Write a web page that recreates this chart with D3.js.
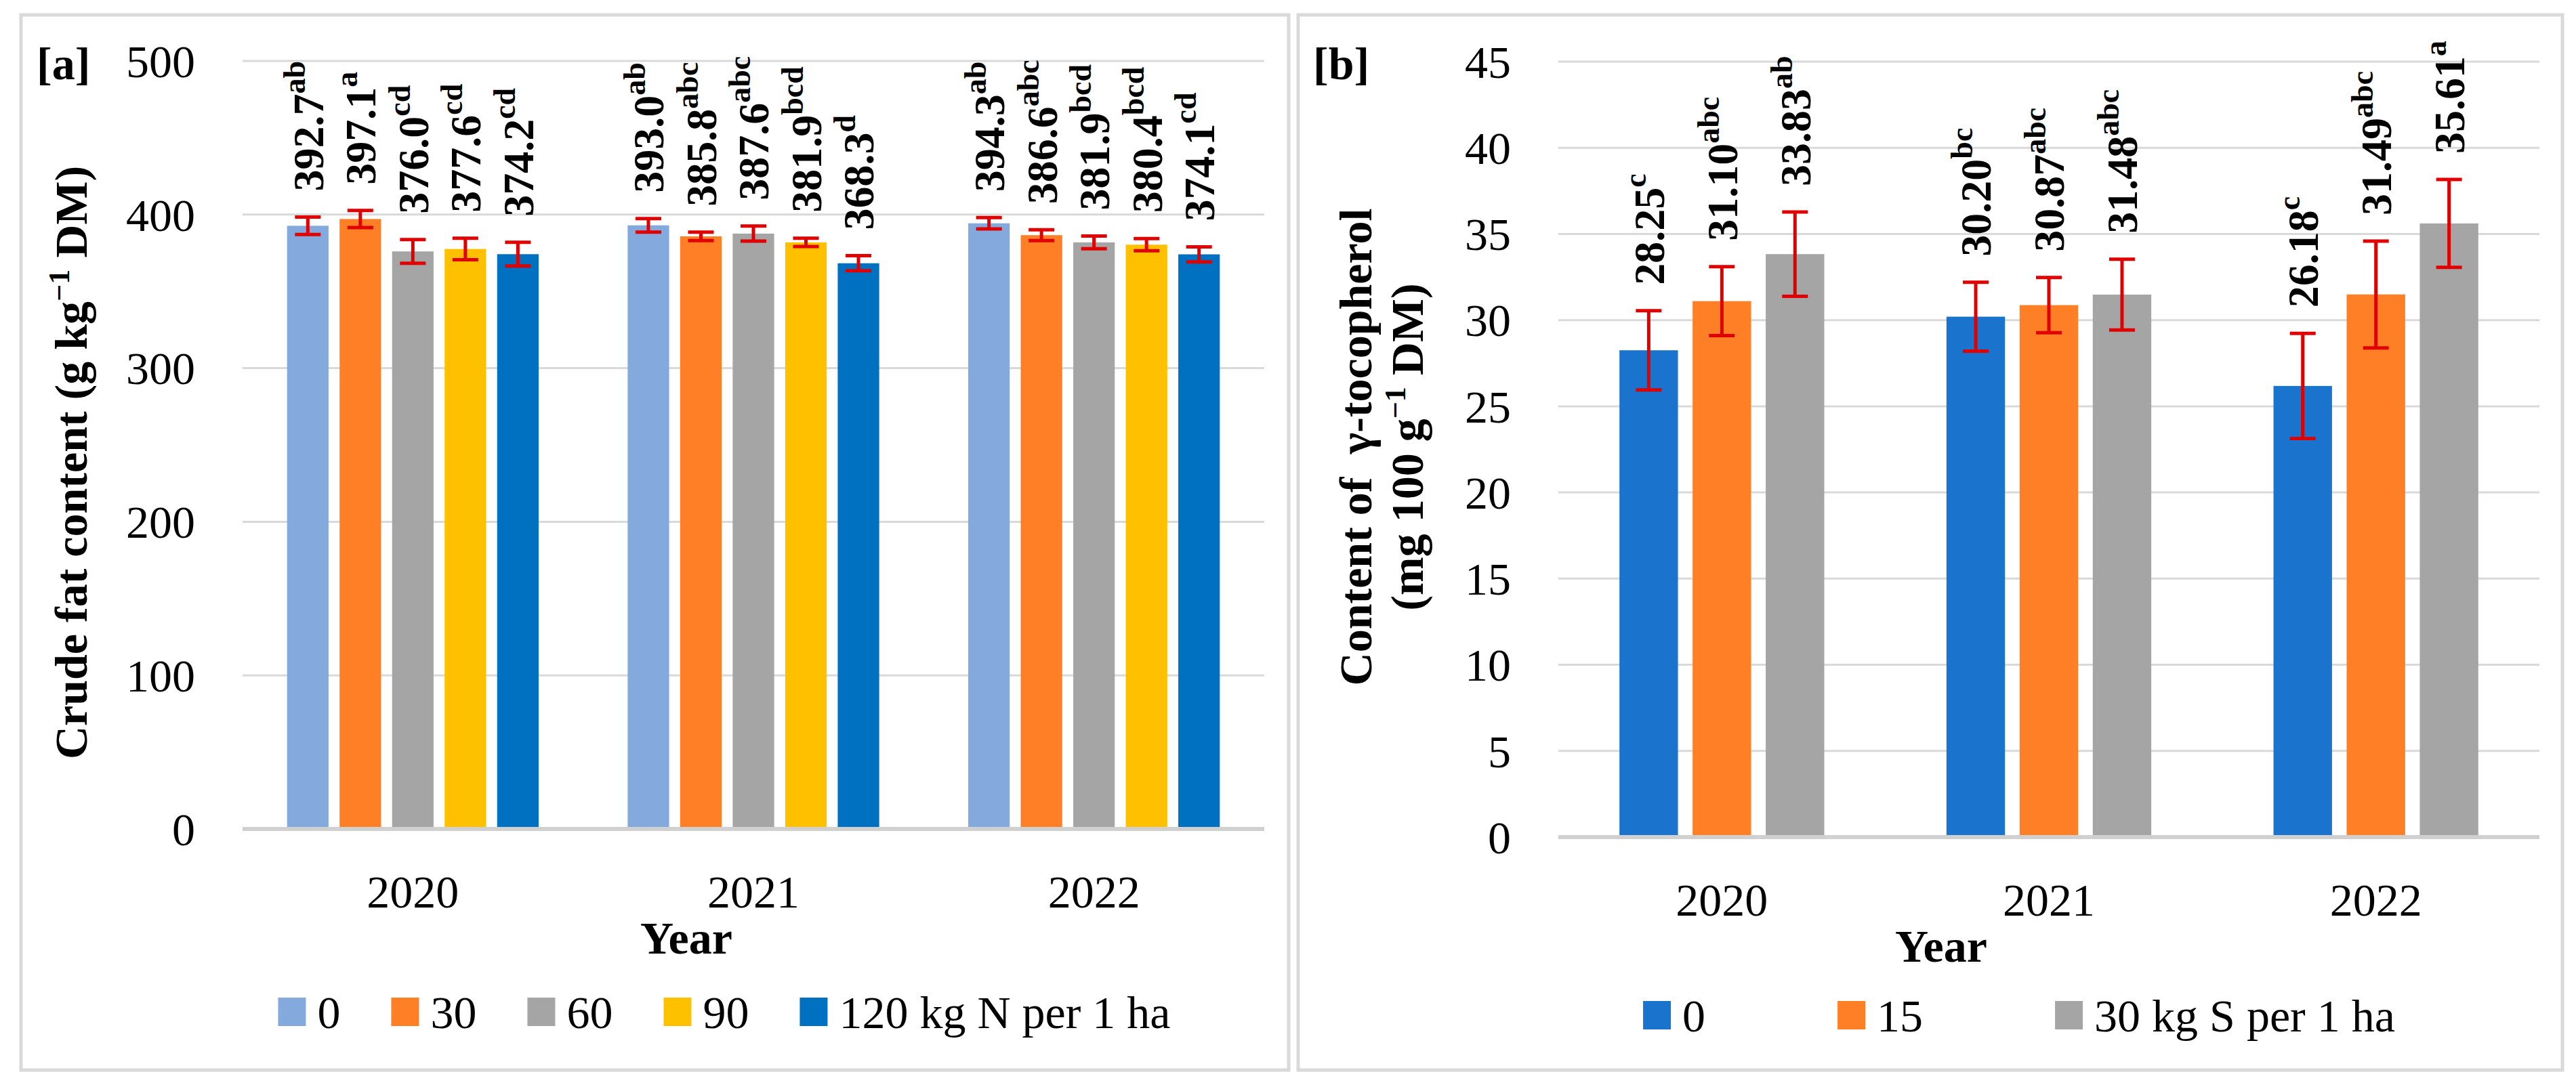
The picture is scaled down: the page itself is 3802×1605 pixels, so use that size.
<!DOCTYPE html>
<html>
<head>
<meta charset="utf-8">
<script src="https://cdn.jsdelivr.net/npm/d3@7"></script>
<style>
    body { margin: 0; background: #fff; }
    text { font-family: "Liberation Serif", "Times New Roman", serif; fill: #000; }
    .tick-label { font-size: 68px; }
    .axis-title { font-size: 68px; font-weight: bold; white-space: pre; }
    .bar-label { font-size: 64px; font-weight: bold; }
    .grid-line { stroke: #d9d9d9; stroke-width: 3; }
    .base-line { stroke: #d0d0d0; stroke-width: 6; }
    .frame { fill: none; stroke: #d9d9d9; stroke-width: 5; }
    .err { stroke: #e00000; stroke-width: 5; fill: none; }
</style>
</head>
<body>
<script>

// Data ////////////////////////////////////

const years = ["2020", "2021", "2022"];

// [a] crude fat, g/kg DM, by N rate
const nLevels = ["0", "30", "60", "90", "120 kg N per 1 ha"];
const nColors = ["#84aadd", "#ff7f27", "#a5a5a5", "#ffc000", "#0070c0"];

const fatN0 = [392.7, 393.0, 394.3];
const fatN30 = [397.1, 385.8, 386.6];
const fatN60 = [376.0, 387.6, 381.9];
const fatN90 = [377.6, 381.9, 380.4];
const fatN120 = [374.2, 368.3, 374.1];

const fatErrN0 = [5.7, 4.4, 3.7];
const fatErrN30 = [5.6, 2.8, 3.5];
const fatErrN60 = [7.7, 4.9, 4.1];
const fatErrN90 = [7.0, 2.7, 4.0];
const fatErrN120 = [7.7, 4.9, 4.9];

const fatLetN0 = ["ab", "ab", "ab"];
const fatLetN30 = ["a", "abc", "abc"];
const fatLetN60 = ["cd", "abc", "bcd"];
const fatLetN90 = ["cd", "bcd", "bcd"];
const fatLetN120 = ["cd", "d", "cd"];

// [b] gamma-tocopherol, mg/100 g DM, by S rate
const sLevels = ["0", "15", "30 kg S per 1 ha"];
const sColors = ["#1a73cc", "#ff7f27", "#a5a5a5"];

const tocS0 = [28.25, 30.20, 26.18];
const tocS15 = [31.10, 30.87, 31.49];
const tocS30 = [33.83, 31.48, 35.61];

const tocErrS0 = [2.3, 2.0, 3.05];
const tocErrS15 = [2.0, 1.6, 3.1];
const tocErrS30 = [2.45, 2.05, 2.55];

const tocLetS0 = ["c", "bc", "c"];
const tocLetS15 = ["abc", "abc", "abc"];
const tocLetS30 = ["ab", "abc", "a"];

const yTicksA = [0, 100, 200, 300, 400, 500];
const yTicksB = [0, 5, 10, 15, 20, 25, 30, 35, 40, 45];

// Layout ////////////////////////////////////

const dim = { width: 3802, height: 1605 };

const panels = [
    {
        frame: { x: 31, y: 22, w: 1871, h: 1558 },
        tag: "[a]", tagX: 54, tagY: 117,
        plot: { left: 358, right: 1866, top: 90, bottom: 1224 },
        yTicks: yTicksA,
        groupFrac: 0.771, barPad: 0.21,
        levels: nLevels, colors: nColors,
        means: [fatN0, fatN30, fatN60, fatN90, fatN120],
        errs: [fatErrN0, fatErrN30, fatErrN60, fatErrN90, fatErrN120],
        letters: [fatLetN0, fatLetN30, fatLetN60, fatLetN90, fatLetN120],
        fmt: d3.format(".1f"),
        title: [
            [{ t: "Crude fat content (g kg" }, { t: "\u22121", sup: true }, { t: " DM)" }]
        ],
        titleX: [128], titleY: 683,
        yearShift: -99,
        legendCenter: 1069, legendY: 1494, legendGap: 75
    },
    {
        frame: { x: 1916, y: 22, w: 1866, h: 1558 },
        tag: "[b]", tagX: 1938, tagY: 117,
        plot: { left: 2300, right: 3748, top: 91, bottom: 1236 },
        yTicks: yTicksB,
        groupFrac: 0.671, barPad: 0.2,
        levels: sLevels, colors: sColors,
        means: [tocS0, tocS15, tocS30],
        errs: [tocErrS0, tocErrS15, tocErrS30],
        letters: [tocLetS0, tocLetS15, tocLetS30],
        fmt: d3.format(".2f"),
        title: [
            [{ t: "Content of  \u03b3-tocopherol" }],
            [{ t: "(mg 100 g" }, { t: "\u22121", sup: true }, { t: " DM)" }]
        ],
        titleX: [2024, 2100], titleY: 660,
        yearShift: -159,
        legendCenter: 2980, legendY: 1499, legendGap: 195
    }
];

const svg = d3.select("body").append("svg")
    .attr("width", dim.width)
    .attr("height", dim.height)
    .attr("viewBox", [0, 0, dim.width, dim.height]);

svg.append("rect")
    .attr("width", dim.width).attr("height", dim.height)
    .style("fill", "#fff");

panels.forEach(p => svg.call(drawPanel, p));

function drawPanel(svg, p) {

    const g = svg.append("g");

    g.append("rect")
        .attr("class", "frame")
        .attr("x", p.frame.x).attr("y", p.frame.y)
        .attr("width", p.frame.w).attr("height", p.frame.h);

    const yMax = d3.max(p.yTicks);
    const y = d3.scaleLinear()
        .domain([0, yMax])
        .range([p.plot.bottom, p.plot.top]);

    const x0 = d3.scaleBand()
        .domain(years)
        .range([p.plot.left, p.plot.right]);

    const groupW = x0.bandwidth() * p.groupFrac;
    const groupOff = (x0.bandwidth() - groupW) / 2;

    const x1 = d3.scaleBand()
        .domain(p.levels)
        .range([0, groupW])
        .paddingInner(p.barPad)
        .paddingOuter(p.barPad / 2);

    // grid + y labels
    g.append("g")
        .selectAll("line")
        .data(p.yTicks.filter(d => d !== 0))
        .join("line")
        .attr("class", "grid-line")
        .attr("x1", p.plot.left).attr("x2", p.plot.right)
        .attr("y1", d => y(d)).attr("y2", d => y(d));

    g.append("g")
        .selectAll("text")
        .data(p.yTicks)
        .join("text")
        .attr("class", "tick-label")
        .attr("text-anchor", "end")
        .attr("x", p.plot.left - 70)
        .attr("y", d => y(d))
        .attr("dy", "0.35em")
        .text(d => d);

    // bars
    const rows = [];
    p.levels.forEach((lev, i) => {
        years.forEach((yr, j) => {
            rows.push({
                year: yr, level: lev, color: p.colors[i],
                mean: p.means[i][j], err: p.errs[i][j], letter: p.letters[i][j]
            });
        });
    });
    const cx = d => x0(d.year) + groupOff + x1(d.level) + x1.bandwidth() / 2;

    g.append("g")
        .selectAll("rect")
        .data(rows)
        .join("rect")
        .attr("x", d => x0(d.year) + groupOff + x1(d.level))
        .attr("y", d => y(d.mean))
        .attr("width", x1.bandwidth())
        .attr("height", d => y(0) - y(d.mean))
        .style("fill", d => d.color);

    g.append("line")
        .attr("class", "base-line")
        .attr("x1", p.plot.left).attr("x2", p.plot.right)
        .attr("y1", y(0)).attr("y2", y(0));

    // error bars
    const capW = 38;
    const errG = g.append("g")
        .selectAll("g")
        .data(rows)
        .join("g")
        .attr("class", "err");
    errG.append("line")
        .attr("x1", cx).attr("x2", cx)
        .attr("y1", d => y(d.mean - d.err)).attr("y2", d => y(d.mean + d.err));
    errG.append("line")
        .attr("x1", d => cx(d) - capW / 2).attr("x2", d => cx(d) + capW / 2)
        .attr("y1", d => y(d.mean + d.err)).attr("y2", d => y(d.mean + d.err));
    errG.append("line")
        .attr("x1", d => cx(d) - capW / 2).attr("x2", d => cx(d) + capW / 2)
        .attr("y1", d => y(d.mean - d.err)).attr("y2", d => y(d.mean - d.err));

    // value labels, rotated
    const lab = g.append("g")
        .selectAll("text")
        .data(rows)
        .join("text")
        .attr("class", "bar-label")
        .attr("transform", d => `translate(${ cx(d) }, ${ y(d.mean + d.err) - 38 }) rotate(-90)`)
        .attr("dy", "0.35em");
    lab.append("tspan").text(d => p.fmt(d.mean));
    lab.append("tspan")
        .style("font-size", "46px")
        .attr("dy", -27)
        .text(d => d.letter);

    // x labels
    g.append("g")
        .selectAll("text")
        .data(years)
        .join("text")
        .attr("class", "tick-label")
        .attr("text-anchor", "middle")
        .attr("x", d => x0(d) + x0.bandwidth() / 2)
        .attr("y", y(0) + 116)
        .text(d => d);

    g.append("text")
        .attr("class", "axis-title")
        .attr("text-anchor", "middle")
        .attr("x", (p.plot.left + p.plot.right) / 2 + p.yearShift)
        .attr("y", y(0) + 184)
        .text("Year");

    // panel tag
    g.append("text")
        .attr("class", "axis-title")
        .attr("x", p.tagX).attr("y", p.tagY)
        .text(p.tag);

    // y title
    p.title.forEach((line, k) => {
        const t = g.append("text")
            .attr("class", "axis-title")
            .attr("text-anchor", "middle")
            .attr("transform", `translate(${ p.titleX[k] }, ${ p.titleY }) rotate(-90)`);
        line.forEach(seg => {
            const ts = t.append("tspan").text(seg.t);
            if (seg.sup) ts.style("font-size", "44px").attr("dy", -26);
            else if (t.selectAll("tspan").size() > 1) ts.attr("dy", 26);
        });
    });

    // legend
    const leg = g.append("g");
    let cursor = 0;
    p.levels.forEach((lev, i) => {
        const item = leg.append("g").attr("transform", `translate(${ cursor }, 0)`);
        item.append("rect")
            .attr("x", 0).attr("y", -21)
            .attr("width", 41).attr("height", 42)
            .style("fill", p.colors[i]);
        const t = item.append("text")
            .attr("class", "tick-label")
            .attr("x", 58)
            .attr("dy", "0.35em")
            .text(lev);
        const w = 58 + t.node().getComputedTextLength();
        cursor += w + (i < p.levels.length - 1 ? p.legendGap : 0);
    });
    leg.attr("transform", `translate(${ p.legendCenter - cursor / 2 }, ${ p.legendY })`);
}

</script>
</body>
</html>
